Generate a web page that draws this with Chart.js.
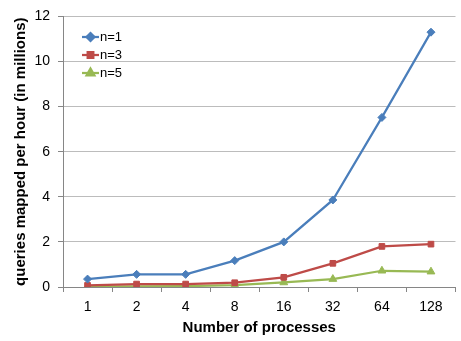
<!DOCTYPE html>
<html>
<head>
<meta charset="utf-8">
<script src="https://cdn.jsdelivr.net/npm/chart.js@4.4.0/dist/chart.umd.min.js"></script>
<style>
  html, body { margin: 0; padding: 0; background: #fff; }
  #wrap { width: 461px; height: 341px; }
</style>
</head>
<body>
<div id="wrap"><canvas id="c"></canvas></div>
<script>
// Dados
const processes = ['1', '2', '4', '8', '16', '32', '64', '128'];
const n1 = [0.35, 0.56, 0.56, 1.17, 2.0, 3.86, 7.52, 11.3];
const n3 = [0.07, 0.13, 0.13, 0.19, 0.43, 1.05, 1.8, 1.9];
const n5 = [0.02, 0.03, 0.04, 0.08, 0.2, 0.35, 0.72, 0.68];
const seriesNames = ['n=1', 'n=3', 'n=5'];
const yTicks = [0, 2, 4, 6, 8, 10, 12];

const COLOR = {
  n1: '#4a7ebb',
  n3: '#be4b48',
  n5: '#98b954',
  grid: '#bcbcbc',
  axis: '#868686',
  text: '#000',
};
const FONT = '"Liberation Sans", Arial, sans-serif';

function ds(label, data, color, style, radius) {
  return {
    label, data,
    borderColor: color,
    backgroundColor: color,
    borderWidth: 2.25,
    pointStyle: style,
    pointRadius: radius,
    pointBorderWidth: 1,
    tension: 0,
  };
}

// Legenda desenhada dentro da área do gráfico
const insideLegend = {
  id: 'insideLegend',
  afterDraw(chart) {
    const ctx = chart.ctx;
    const x0 = 82, x1 = 99, ys = [37, 55, 73];
    chart.data.datasets.forEach((d, i) => {
      const y = ys[i];
      ctx.save();
      ctx.strokeStyle = d.borderColor;
      ctx.lineWidth = 2.25;
      ctx.beginPath();
      ctx.moveTo(x0, y);
      ctx.lineTo(x1, y);
      ctx.stroke();
      ctx.fillStyle = d.borderColor;
      Chart.helpers.drawPoint(ctx, {
        pointStyle: d.pointStyle, radius: d.pointRadius, borderWidth: 1
      }, (x0 + x1) / 2, y);
      ctx.fillStyle = COLOR.text;
      ctx.font = '13px ' + FONT;
      ctx.textBaseline = 'middle';
      ctx.textAlign = 'left';
      ctx.fillText(seriesNames[i], x1 + 1, y);
      ctx.restore();
    });
  }
};

new Chart(document.getElementById('c').getContext('2d'), {
  type: 'line',
  data: {
    labels: processes,
    datasets: [
      ds(seriesNames[0], n1, COLOR.n1, 'rectRot', 4),
      ds(seriesNames[1], n3, COLOR.n3, 'rect', 4),
      ds(seriesNames[2], n5, COLOR.n5, 'triangle', 4.5),
    ],
  },
  options: {
    responsive: true,
    maintainAspectRatio: false,
    animation: false,
    layout: { padding: { top: 9, right: 2, left: 0, bottom: 0 } },
    plugins: { legend: { display: false }, tooltip: { enabled: false } },
    scales: {
      x: {
        offset: true,
        grid: { display: true, offset: true, drawOnChartArea: false, drawTicks: true, tickLength: 5, color: COLOR.axis },
        border: { color: COLOR.axis },
        ticks: { color: COLOR.text, font: { family: FONT, size: 14 }, padding: 7, maxRotation: 0 },
        title: { display: true, text: 'Number of processes', color: COLOR.text, font: { family: FONT, size: 15, weight: 'bold' }, padding: { top: 3 } },
        afterFit(s) { s.height = 54; },
      },
      y: {
        min: 0, max: 12,
        afterBuildTicks(s) { s.ticks = yTicks.map(v => ({ value: v })); },
        grid: { color: COLOR.grid, tickLength: 5, tickColor: COLOR.axis },
        border: { color: COLOR.axis },
        ticks: { color: COLOR.text, font: { family: FONT, size: 14 }, padding: 8 },
        title: { display: true, text: 'queries mapped per hour (in millions)', color: COLOR.text, font: { family: FONT, size: 15, weight: 'bold' }, padding: { top: 12, bottom: 0 } },
        afterFit(s) { s.width = 63; },
      },
    },
  },
  plugins: [insideLegend],
});
</script>
</body>
</html>
